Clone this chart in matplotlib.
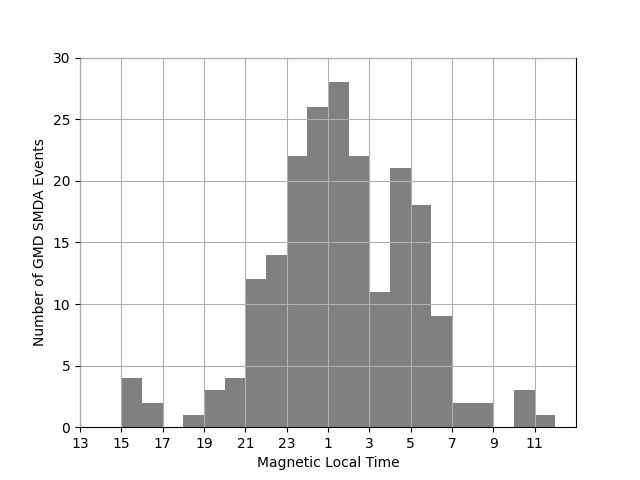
import matplotlib
matplotlib.use('Agg')
import matplotlib.pyplot as plt
import numpy as np

# hours after 13 MLT (bin start), event counts
bin_starts = [0, 1, 2, 3, 4, 5, 6, 7, 8, 9, 10, 11,
              12, 13, 14, 15, 16, 17, 18, 19, 20, 21, 22]
counts = [0, 0, 4, 2, 0, 1, 3, 4, 12, 14, 22, 26,
          28, 22, 11, 21, 18, 9, 2, 2, 0, 3, 1]
tick_pos = [0, 2, 4, 6, 8, 10, 12, 14, 16, 18, 20, 22]
tick_labels = ['13', '15', '17', '19', '21', '23', '1', '3', '5', '7', '9', '11']

fig, ax = plt.subplots(figsize=(6.4, 4.8))
ax.hist(bin_starts, bins=np.arange(0, 24), weights=counts, color='gray')
ax.set_axisbelow(False)
ax.grid(True)
ax.set_xlim(0, 24)
ax.set_ylim(0, 30)
ax.set_xticks(tick_pos)
ax.set_xticklabels(tick_labels)
ax.set_xlabel('Magnetic Local Time')
ax.set_ylabel('Number of GMD SMDA Events')

plt.savefig('out.png')
